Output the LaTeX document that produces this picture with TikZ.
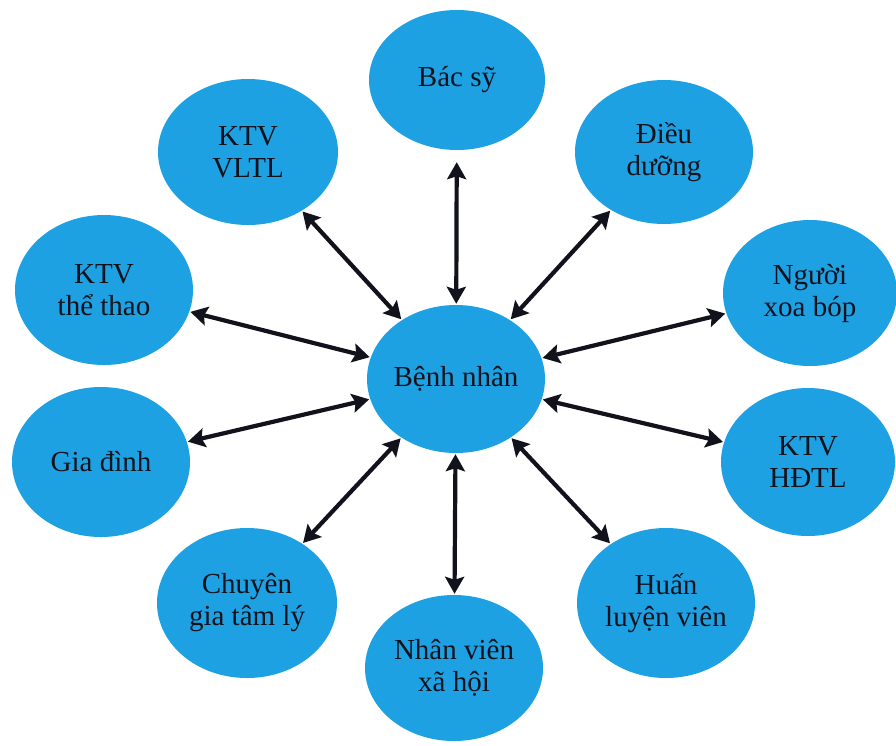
\documentclass[tikz,border=0pt]{standalone}
\usepackage{fontspec}
\setmainfont{Liberation Serif}
\usetikzlibrary{shapes.geometric,arrows.meta}
\definecolor{bubble}{RGB}{29,161,226}
\definecolor{ink}{RGB}{18,18,28}
\begin{document}
\begin{tikzpicture}[x=1pt,y=-1pt,
  bubblenode/.style={ellipse,fill=bubble,draw=none,inner sep=0pt,align=center,
    text=ink,font=\fontsize{29}{32}\selectfont},
  link/.style={line width=4.2pt,draw=ink,{Stealth[length=17pt,width=19pt,inset=3pt]}-{Stealth[length=17pt,width=19pt,inset=3pt]},
    shorten <=1pt,shorten >=1pt}]
\useasboundingbox[fill=white] (0,0) rectangle (896,745);

\node[bubblenode,minimum width=178,minimum height=148] (bn) at (456,379) {Bệnh nhân};
\node[bubblenode,minimum width=176,minimum height=140] (bs) at (457,80) {Bác sỹ};
\node[bubblenode,minimum width=178,minimum height=144] (dd) at (664,152) {Điều\\dưỡng};
\node[bubblenode,minimum width=174,minimum height=146] (xb) at (810,293) {Người\\xoa bóp};
\node[bubblenode,minimum width=174,minimum height=148] (hd) at (808,462) {KTV\\HĐTL};
\node[bubblenode,minimum width=178,minimum height=150] (hl) at (666,603) {Huấn\\luyện viên};
\node[bubblenode,minimum width=178,minimum height=146] (xh) at (454,668) {Nhân viên\\xã hội};
\node[bubblenode,minimum width=180,minimum height=150] (tl) at (247,603) {Chuyên\\gia tâm lý};
\node[bubblenode,minimum width=178,minimum height=150] (gd) at (101,462) {Gia đình};
\node[bubblenode,minimum width=178,minimum height=150] (tt) at (104,290) {KTV\\thể thao};
\node[bubblenode,minimum width=180,minimum height=146] (vl) at (248,152) {KTV\\VLTL};

% two-headed links from the patient to every member of the team
\draw[link,shorten >=12pt] (bn) -- (bs);
\foreach \n in {dd,xb,hd,hl,xh,tl,gd,tt,vl}
  \draw[link] (bn) -- (\n);
\end{tikzpicture}
\end{document}
